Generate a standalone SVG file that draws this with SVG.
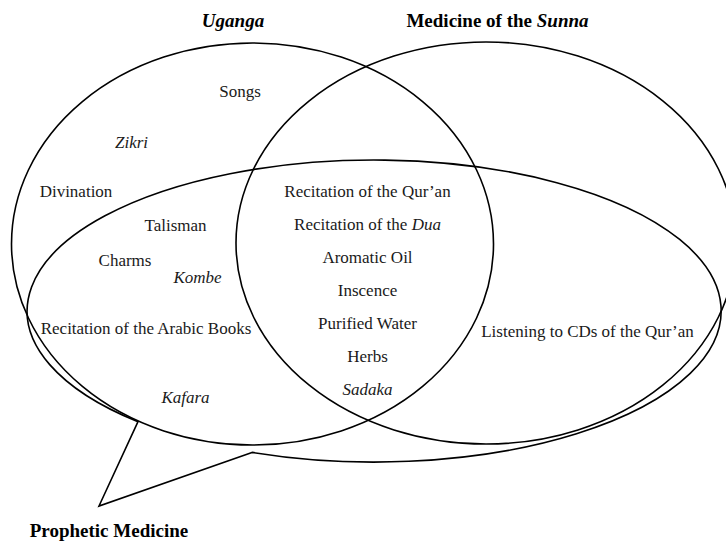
<svg xmlns="http://www.w3.org/2000/svg" width="726" height="541" viewBox="0 0 726 541">
<style>
.shape{fill:none;stroke:#000;stroke-width:1.6}
text{font-family:'Liberation Serif','DejaVu Serif',serif;font-size:17px;fill:#1a1a1a;text-anchor:middle}
.it{font-style:italic}
.title{font-weight:bold;font-size:19px;fill:#000}
</style>
<rect width="726" height="541" fill="#fff"/>
<g id="uganga">
<ellipse class="shape" cx="252.5" cy="244" rx="241" ry="201"/>
<text class="title it" x="233" y="27">Uganga</text>
<text x="240" y="97">Songs</text>
<text class="it" x="131.5" y="148">Zikri</text>
<text x="76" y="197">Divination</text>
</g>
<g id="sunna">
<ellipse class="shape" cx="486" cy="243" rx="250" ry="201"/>
<text class="title" x="497.5" y="27">Medicine of the <tspan font-style="italic">Sunna</tspan></text>
<text x="587.5" y="337">Listening to CDs of the Qur’an</text>
</g>
<g id="prophetic">
<path class="shape" d="M252,452.4 L99,506 L138,421.7 A347,151 0 1 1 252,452.4 Z" stroke-linejoin="miter"/>
<text class="title" x="109" y="537">Prophetic Medicine</text>
<text x="175.5" y="231">Talisman</text>
<text x="125" y="266">Charms</text>
<text class="it" x="197.5" y="282.5">Kombe</text>
<text x="146" y="334">Recitation of the Arabic Books</text>
<text class="it" x="185.5" y="403">Kafara</text>
</g>
<g id="center">
<text x="367.5" y="197">Recitation of the Qur’an</text>
<text x="367.5" y="230">Recitation of the <tspan font-style="italic">Dua</tspan></text>
<text x="367.5" y="263">Aromatic Oil</text>
<text x="367.5" y="296">Inscence</text>
<text x="367.5" y="329">Purified Water</text>
<text x="367.5" y="362">Herbs</text>
<text class="it" x="367.5" y="395">Sadaka</text>
</g>
</svg>
